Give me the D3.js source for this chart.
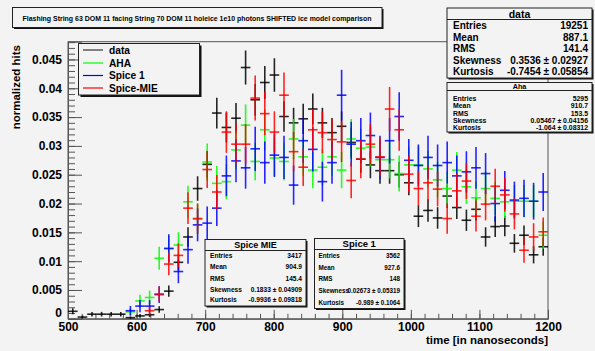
<!DOCTYPE html>
<html><head><meta charset="utf-8">
<script src="https://cdn.jsdelivr.net/npm/d3@7/dist/d3.min.js"></script>
<style>
body{margin:0;background:#f3f3f3;}
svg{display:block;}
text{font-family:"Liberation Sans",Arial,Helvetica,sans-serif;font-weight:bold;fill:#000;}
</style>
</head><body>
<svg id="c" width="595" height="351"></svg>
<script>
// ---------- data ----------
const binCenters = [507,521,535,549,563,577,591,605,619,633,647,661,675,689,703,717,731,745,759,773,
  787,801,815,829,843,857,871,885,899,913,927,941,955,969,983,997,1011,1025,1039,1053,
  1067,1081,1095,1109,1123,1137,1151,1165,1179,1193];
const binWidth = 14;

const dataVals = [0.0013,0.0003,0.0008,0.0008,0.0008,0.0008,0.0002,0.0005,0.0007,0.0016,
  0.0048,0.0098,0.0142,0.0226,0.0268,0.0357,0.0332,0.0348,0.0436,0.0380,
  0.0410,0.0423,0.0351,0.0340,0.0347,0.0364,0.0340,0.0323,0.0334,0.0306,
  0.0277,0.0267,0.0257,0.0257,0.0250,0.0236,0.0178,0.0188,0.0175,0.0213,
  0.0193,0.0171,0.0190,0.0142,0.0160,0.0161,0.0131,0.0145,0.0111,0.0125];
const ahaVals = [null,null,null,null,null,null,0.0012,0.0031,0.0037,0.0105,
  0.0122,0.0128,0.0203,0.0173,0.0272,0.0235,0.0238,0.0293,0.0336,0.0273,
  0.0328,0.0279,0.0273,0.0312,0.0281,0.0258,0.0263,0.0281,0.0258,0.0312,
  0.0296,0.0298,0.0276,0.0276,0.0252,0.0267,0.0267,0.0260,0.0241,0.0226,
  0.0258,0.0229,0.0210,0.0226,0.0209,0.0203,0.0204,0.0204,0.0204,0.0145];
const spice1Vals = [null,null,null,null,null,null,0.0014,0.0022,0.0022,0.0042,
  0.0122,0.0082,0.0120,0.0163,0.0166,0.0192,0.0248,0.0274,0.0262,0.0295,
  0.0271,0.0284,0.0280,0.0232,0.0309,0.0294,0.0238,0.0271,0.0388,0.0303,
  0.0309,0.0318,0.0280,0.0309,0.0351,0.0275,0.0266,0.0280,0.0266,0.0271,
  0.0248,0.0255,0.0262,0.0252,0.0200,0.0223,0.0206,0.0209,0.0204,0.0220];
const mieVals = [null,null,null,null,null,null,null,null,0.0014,0.0043,
  0.0095,0.0110,0.0192,0.0174,0.0259,0.0220,0.0324,0.0303,0.0303,0.0383,
  0.0356,0.0324,0.0388,0.0290,0.0263,0.0328,0.0323,0.0311,0.0307,0.0240,
  0.0277,0.0303,0.0281,0.0364,0.0328,0.0251,0.0226,0.0236,0.0225,0.0174,
  0.0222,0.0239,0.0178,0.0199,0.0230,0.0215,0.0182,0.0119,0.0142,0.0151];

// effective Poisson counts used for the error bars
const effCounts = {data:5000, aha:2600, spice1:2000, mie:2500};

const seriesNames = ["data","AHA","Spice 1","Spice-MIE"];
const seriesColors = ["#000000","#00ff00","#0000ff","#ff0000"];

const xTickValues = [500,600,700,800,900,1000,1100,1200];
const yTickValues = [0,0.005,0.01,0.015,0.02,0.025,0.03,0.035,0.04,0.045];
const yTickLabels = ["0","0.005","0.01","0.015","0.02","0.025","0.03","0.035","0.04","0.045"];

const titleText = "Flashing String 63 DOM 11 facing String 70 DOM 11 holeice 1e10 photons SHIFTED ice model comparison";
const xTitle = "time [in nanoseconds]";
const yTitle = "normalized hits";

const statLabels = ["Entries","Mean","RMS","Skewness","Kurtosis"];
const statData   = ["19251","887.1","141.4","0.3536 \u00b1 0.02927","-0.7454 \u00b1 0.05854"];
const statAha    = ["5295","910.7","153.5","0.05467 \u00b1 0.04156","-1.064 \u00b1 0.08312"];
const statMie    = ["3417","904.9","145.4","0.1833 \u00b1 0.04909","-0.9936 \u00b1 0.09818"];
const statSpice1 = ["3562","927.6","148","0.02673 \u00b1 0.05319","-0.989 \u00b1 0.1064"];

// ---------- layout ----------
const svg = d3.select("#c");
const FX0 = 68, FX1 = 548, FY0 = 318.8, FY1 = 41.7;
const x = d3.scaleLinear().domain([500,1200]).range([FX0,FX1]);
const y = d3.scaleLinear().domain([0,0.04808]).range([FY0,FY1]);
const axisCol = "#555";

svg.append("rect").attr("width",595).attr("height",351).attr("fill","#f3f3f3");

// frame
svg.append("rect").attr("x",FX0).attr("y",FY1).attr("width",FX1-FX0).attr("height",FY0-FY1)
  .attr("fill","none").attr("stroke",axisCol).attr("stroke-width",1);

// minor ticks
const yMinor = d3.range(0,0.04805,0.001);
svg.append("g").attr("transform",`translate(${FX0},0)`)
  .call(d3.axisLeft(y).tickValues(yMinor).tickSize(-7).tickFormat(""))
  .call(g=>{g.select(".domain").remove(); g.selectAll("line").attr("stroke",axisCol);});
const xMinor = d3.range(500,1201,20);
svg.append("g").attr("transform",`translate(0,${FY0})`)
  .call(d3.axisBottom(x).tickValues(xMinor).tickSize(-5).tickFormat(""))
  .call(g=>{g.select(".domain").remove(); g.selectAll("line").attr("stroke",axisCol);});

// major ticks + labels
svg.append("g").attr("transform",`translate(${FX0},0)`)
  .call(d3.axisLeft(y).tickValues(yTickValues).tickSize(-14).tickPadding(6)
        .tickFormat((d,i)=>yTickLabels[i]))
  .call(g=>{g.select(".domain").attr("stroke",axisCol); g.selectAll("line").attr("stroke",axisCol);
            g.selectAll("text").attr("font-size",12).attr("font-family","Liberation Sans, Arial, sans-serif")
             .attr("font-weight","bold").attr("fill","#000");
            g.selectAll("text").filter(d=>d===0).attr("dy","-0.22em");});
svg.append("g").attr("transform",`translate(0,${FY0})`)
  .call(d3.axisBottom(x).tickValues(xTickValues).tickSize(-9).tickPadding(3.5).tickFormat(d=>String(d)))
  .call(g=>{g.select(".domain").attr("stroke",axisCol); g.selectAll("line").attr("stroke",axisCol);
            g.selectAll("text").attr("font-size",12).attr("font-family","Liberation Sans, Arial, sans-serif")
             .attr("font-weight","bold").attr("fill","#000");});

// axis titles
svg.append("text").attr("x",548).attr("y",343.5).attr("text-anchor","end")
  .attr("font-size",11.5).text(xTitle);
svg.append("text").attr("transform","translate(19.5,45) rotate(-90)").attr("text-anchor","end")
  .attr("font-size",11.5).text(yTitle);

// ---------- histograms with error bars ----------
const seriesVals = [dataVals, ahaVals, spice1Vals, mieVals];
const seriesN = [effCounts.data, effCounts.aha, effCounts.spice1, effCounts.mie];
const plot = svg.append("g");
seriesVals.forEach((vals,si)=>{
  const g = plot.append("g").attr("stroke",seriesColors[si]).attr("stroke-width",1.6)
    .attr("stroke-opacity",0.85);
  vals.forEach((v,i)=>{
    if (v===null) return;
    const c = binCenters[i];
    const e = Math.sqrt(v/seriesN[si]);
    g.append("line").attr("x1",x(c)).attr("x2",x(c))
      .attr("y1",Math.min(y(Math.max(v-e,0)),FY0)).attr("y2",Math.max(y(v+e),FY1));
    g.append("line").attr("x1",x(c-binWidth/2)).attr("x2",x(c+binWidth/2))
      .attr("y1",y(v)).attr("y2",y(v));
  });
});

// ---------- boxes ----------
function shadowBox(x0,y0,x1,y1,sh){
  svg.append("rect").attr("x",x0+sh).attr("y",y0+sh).attr("width",x1-x0).attr("height",y1-y0).attr("fill","#111");
  svg.append("rect").attr("x",x0).attr("y",y0).attr("width",x1-x0).attr("height",y1-y0)
    .attr("fill","#f3f3f3").attr("stroke","#222").attr("stroke-width",1);
}

// title
shadowBox(12.5,7.5,382,27.5,1.5);
svg.append("text").attr("x",197).attr("y",20.5).attr("text-anchor","middle")
  .attr("font-size",7.4).attr("textLength",349).attr("lengthAdjust","spacingAndGlyphs").text(titleText);

// legend
shadowBox(78.5,43.5,199.5,95,2);
const legYs = [50,63,75.5,88];
seriesNames.forEach((n,i)=>{
  svg.append("line").attr("x1",83).attr("x2",103).attr("y1",legYs[i]).attr("y2",legYs[i])
    .attr("stroke",i===0?"#333":seriesColors[i]).attr("stroke-width",1.2);
  svg.append("text").attr("x",109).attr("y",legYs[i]).attr("dy","0.36em").attr("font-size",10.2).text(n);
});

function statBox(cfg){
  shadowBox(cfg.x0,cfg.y0,cfg.x1,cfg.y1,cfg.sh);
  svg.append("text").attr("x",(cfg.x0+cfg.x1)/2).attr("y",cfg.titleY).attr("dy","0.36em")
    .attr("text-anchor","middle").attr("font-size",cfg.titleSize).text(cfg.title);
  svg.append("line").attr("x1",cfg.x0).attr("x2",cfg.x1).attr("y1",cfg.divY).attr("y2",cfg.divY)
    .attr("stroke","#222").attr("stroke-width",1);
  statLabels.forEach((l,i)=>{
    svg.append("text").attr("x",cfg.x0+cfg.padL).attr("y",cfg.rowYs[i]).attr("dy","0.36em")
      .attr("font-size",cfg.size).text(l);
    svg.append("text").attr("x",cfg.x1-cfg.padR).attr("y",cfg.rowYs[i]).attr("dy","0.36em")
      .attr("text-anchor","end").attr("font-size",cfg.size).text(cfg.values[i]);
  });
}
statBox({x0:447,y0:8,x1:592,y1:78,sh:1.5,title:"data",titleY:14,titleSize:10.5,divY:19.5,
  rowYs:[25.5,37,48.5,60,71.5],size:10,padL:6,padR:4,values:statData});
statBox({x0:447,y0:82.5,x1:592,y1:132,sh:1.5,title:"Aha",titleY:86.6,titleSize:7.2,divY:90.5,
  rowYs:[99,106,113.2,120.4,127.5],size:6.9,padL:6,padR:4,values:statAha});
statBox({x0:205,y0:239.5,x1:306,y1:306,sh:1.5,title:"Spice MIE",titleY:245,titleSize:9,divY:250.5,
  rowYs:[256,266.8,278.2,289.3,300],size:6.6,padL:5,padR:4,values:statMie});
statBox({x0:314.5,y0:238.5,x1:404,y1:308.5,sh:1.5,title:"Spice 1",titleY:244,titleSize:9.5,divY:249.5,
  rowYs:[255.7,267.3,279.2,290.7,302.3],size:6.3,padL:4,padR:4,values:statSpice1});
</script>
</body></html>
